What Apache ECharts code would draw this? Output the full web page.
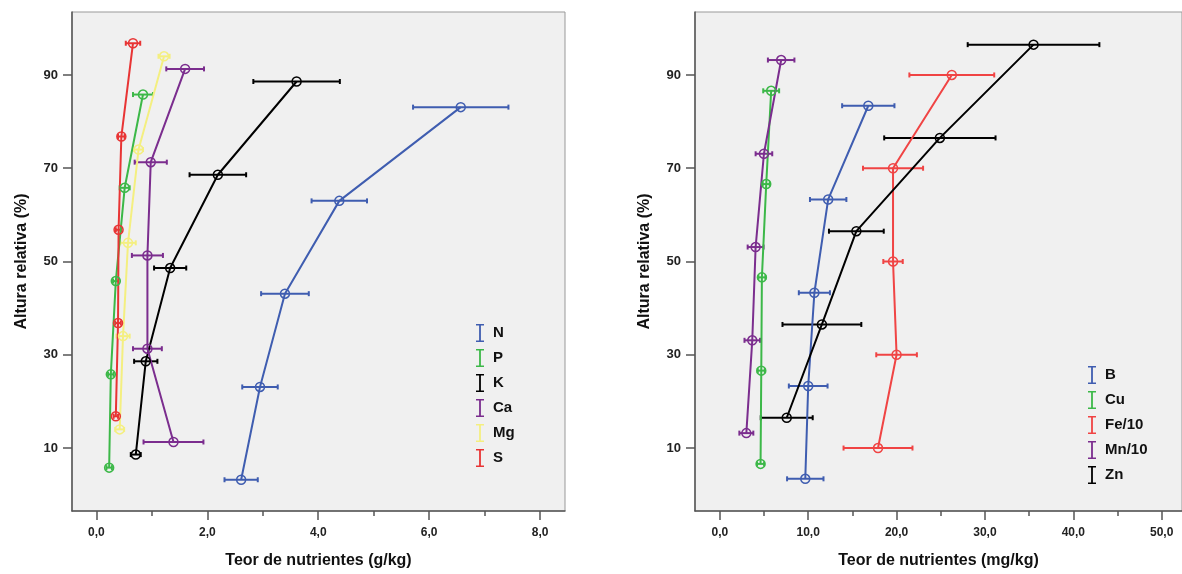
<!DOCTYPE html>
<html>
<head>
<meta charset="utf-8">
<script src="https://cdn.jsdelivr.net/npm/echarts@6/dist/echarts.min.js"></script>
<style>
  html, body { margin: 0; padding: 0; background: #fff; }
  #main { width: 1182px; height: 574px; }
</style>
</head>
<body>
<div id="main"></div>
<script>
    // dados: altura relativa (%), teor médio e erro (±)
    // painel esquerdo (g/kg)
    var alturaN = [3.2, 23.1, 43.1, 63.0, 83.1];
    var teorN = [2.61, 2.95, 3.40, 4.38, 6.57];
    var erroN = [0.30, 0.32, 0.43, 0.50, 0.86];

    var alturaP = [5.8, 25.8, 45.8, 65.8, 85.8];
    var teorP = [0.23, 0.26, 0.35, 0.51, 0.84];
    var erroP = [0.05, 0.05, 0.05, 0.09, 0.18];

    var alturaK = [8.6, 28.6, 48.6, 68.6, 88.6];
    var teorK = [0.71, 0.89, 1.33, 2.19, 3.61];
    var erroK = [0.09, 0.21, 0.29, 0.51, 0.78];

    var alturaCa = [11.3, 31.3, 51.3, 71.3, 91.3];
    var teorCa = [1.39, 0.92, 0.92, 0.98, 1.60];
    var erroCa = [0.54, 0.26, 0.28, 0.29, 0.34];

    var alturaMg = [14.0, 34.0, 54.0, 74.0, 94.0];
    var teorMg = [0.42, 0.48, 0.57, 0.76, 1.22];
    var erroMg = [0.08, 0.12, 0.14, 0.08, 0.10];

    var alturaS = [16.8, 36.8, 56.8, 76.8, 96.8];
    var teorS = [0.35, 0.39, 0.40, 0.45, 0.66];
    var erroS = [0.04, 0.05, 0.05, 0.06, 0.13];

    // painel direito (mg/kg)
    var alturaB = [3.4, 23.3, 43.3, 63.3, 83.4];
    var teorB = [9.67, 10.0, 10.7, 12.26, 16.8];
    var erroB = [2.06, 2.19, 1.76, 2.06, 2.96];

    var alturaCu = [6.6, 26.6, 46.6, 66.6, 86.6];
    var teorCu = [4.61, 4.69, 4.76, 5.25, 5.81];
    var erroCu = [0.4, 0.4, 0.4, 0.4, 0.9];

    var alturaFe = [10.0, 30.0, 50.0, 70.0, 90.0];
    var teorFe = [17.9, 20.0, 19.6, 19.6, 26.25];
    var erroFe = [3.9, 2.3, 1.1, 3.4, 4.8];

    var alturaMn = [13.2, 33.1, 53.1, 73.1, 93.2];
    var teorMn = [3.0, 3.67, 4.05, 4.99, 6.94];
    var erroMn = [0.79, 0.88, 0.9, 0.94, 1.5];

    var alturaZn = [16.5, 36.5, 56.5, 76.5, 96.5];
    var teorZn = [7.57, 11.55, 15.45, 24.9, 35.5];
    var erroZn = [2.94, 4.46, 3.1, 6.3, 7.45];

    var yTicks = [10, 30, 50, 70, 90];
    var xTicksG = [0, 2, 4, 6, 8];
    var xMinorG = [1, 3, 5, 7];
    var xTicksMg = [0, 10, 20, 30, 40, 50];
    var xMinorMg = [5, 15, 25, 35, 45];

    var nomesEsq = ['N', 'P', 'K', 'Ca', 'Mg', 'S'];
    var nomesDir = ['B', 'Cu', 'Fe/10', 'Mn/10', 'Zn'];

    var cores = {
        'N': '#3f5db0', 'P': '#3cb848', 'K': '#000000', 'Ca': '#7b2d8e',
        'Mg': '#f4ef80', 'S': '#e83434',
        'B': '#3f5db0', 'Cu': '#3cb848', 'Fe/10': '#f04444', 'Mn/10': '#7b2d8e', 'Zn': '#000000'
    };

    var myChart = echarts.init(document.getElementById('main'));

    var fonte = '"Liberation Sans", Arial, sans-serif';
    var iconeI = 'path://M0,0H8V1.6H4.9V16.4H8V18H0V16.4H3.1V1.6H0Z';

    function serieLinha(nome, xs, ys, idx) {
        var c = cores[nome];
        return {
            name: nome,
            type: 'line',
            xAxisIndex: idx,
            yAxisIndex: idx,
            data: ys.map(function (y, i) { return [xs[i], y]; }),
            symbol: 'circle',
            symbolSize: 9,
            itemStyle: { color: 'rgba(0,0,0,0)', borderColor: c, borderWidth: 1.5 },
            lineStyle: { color: c, width: 2 },
            emphasis: { disabled: true },
            z: 4
        };
    }

    function serieErro(nome, xs, es, ys, idx) {
        var c = cores[nome];
        return {
            name: nome,
            type: 'custom',
            xAxisIndex: idx,
            yAxisIndex: idx,
            data: ys.map(function (y, i) { return [xs[i] - es[i], xs[i] + es[i], y]; }),
            encode: { x: [0, 1], y: 2 },
            silent: true,
            z: 3,
            renderItem: function (params, api) {
                var a = api.coord([api.value(0), api.value(2)]);
                var b = api.coord([api.value(1), api.value(2)]);
                var h = 2.5;
                var st = { stroke: c, lineWidth: 2 };
                return {
                    type: 'group',
                    children: [
                        { type: 'line', shape: { x1: a[0], y1: a[1], x2: b[0], y2: b[1] }, style: st },
                        { type: 'line', shape: { x1: a[0], y1: a[1] - h, x2: a[0], y2: a[1] + h }, style: st },
                        { type: 'line', shape: { x1: b[0], y1: b[1] - h, x2: b[0], y2: b[1] + h }, style: st }
                    ]
                };
            }
        };
    }

    function eixoX(idx, min, max, labels, nome) {
        return {
            type: 'value', gridIndex: idx, min: min, max: max, position: 'bottom',
            name: nome, nameLocation: 'middle', nameGap: 42,
            nameTextStyle: { fontFamily: fonte, fontWeight: 'bold', fontSize: 16, color: '#111' },
            axisLine: { onZero: false, lineStyle: { color: '#555', width: 1.5 } },
            axisTick: { customValues: labels, length: 9, lineStyle: { color: '#555', width: 1.5 } },
            axisLabel: {
                customValues: labels, margin: 16,
                fontFamily: fonte, fontWeight: 'bold', fontSize: 12, color: '#222',
                formatter: function (v) { return v.toFixed(1).replace('.', ','); }
            },
            splitLine: { show: false }
        };
    }

    function eixoXMenor(idx, min, max, ticks) {
        return {
            type: 'value', gridIndex: idx, min: min, max: max, position: 'bottom',
            axisLine: { show: false, onZero: false },
            axisTick: { customValues: ticks, length: 5, lineStyle: { color: '#555', width: 1.5 } },
            axisLabel: { show: false },
            splitLine: { show: false }
        };
    }

    function eixoY(idx) {
        return {
            type: 'value', gridIndex: idx, min: -3.5, max: 103.5,
            name: 'Altura relativa (%)', nameLocation: 'middle', nameGap: 42,
            nameTextStyle: { fontFamily: fonte, fontWeight: 'bold', fontSize: 16, color: '#111' },
            axisLine: { show: true, onZero: false, lineStyle: { color: '#555', width: 1.5 } },
            axisTick: { show: true, customValues: yTicks, length: 9, lineStyle: { color: '#555', width: 1.5 } },
            axisLabel: {
                customValues: yTicks, margin: 14,
                fontFamily: fonte, fontWeight: 'bold', fontSize: 13, color: '#222'
            },
            splitLine: { show: false }
        };
    }

    function legenda(nomes, left, top) {
        return {
            orient: 'vertical', left: left, top: top,
            itemWidth: 8, itemHeight: 18, itemGap: 7,
            selectedMode: false,
            textStyle: { fontFamily: fonte, fontWeight: 'bold', fontSize: 15, color: '#111', padding: [0, 0, 0, 4] },
            data: nomes.map(function (n) {
                return { name: n, icon: iconeI, itemStyle: { color: cores[n], borderWidth: 0 } };
            })
        };
    }

    var series = [];
    var esq = [
        ['N', teorN, erroN, alturaN], ['P', teorP, erroP, alturaP], ['K', teorK, erroK, alturaK],
        ['Ca', teorCa, erroCa, alturaCa], ['Mg', teorMg, erroMg, alturaMg], ['S', teorS, erroS, alturaS]
    ];
    var dir = [
        ['B', teorB, erroB, alturaB], ['Cu', teorCu, erroCu, alturaCu], ['Fe/10', teorFe, erroFe, alturaFe],
        ['Mn/10', teorMn, erroMn, alturaMn], ['Zn', teorZn, erroZn, alturaZn]
    ];
    esq.forEach(function (s) {
        series.push(serieErro(s[0], s[1], s[2], s[3], 0));
        series.push(serieLinha(s[0], s[1], s[3], 0));
    });
    dir.forEach(function (s) {
        series.push(serieErro(s[0], s[1], s[2], s[3], 1));
        series.push(serieLinha(s[0], s[1], s[3], 1));
    });

    option = {
        backgroundColor: '#ffffff',
        animation: false,
        grid: [
            { left: 72, top: 12, width: 493, height: 500, show: true, backgroundColor: '#f0f0f0', borderColor: '#999', borderWidth: 1 },
            { left: 695, top: 12, width: 490, height: 500, show: true, backgroundColor: '#f0f0f0', borderColor: '#999', borderWidth: 1 }
        ],
        legend: [legenda(nomesEsq, 471, 319), legenda(nomesDir, 1083, 361)],
        xAxis: [
            eixoX(0, -0.44, 8.45, xTicksG, 'Teor de nutrientes (g/kg)'),
            eixoX(1, -2.81, 52.3, xTicksMg, 'Teor de nutrientes (mg/kg)'),
            eixoXMenor(0, -0.44, 8.45, xMinorG),
            eixoXMenor(1, -2.81, 52.3, xMinorMg)
        ],
        yAxis: [eixoY(0), eixoY(1)],
        series: series
    };

    myChart.setOption(option);
</script>
</body>
</html>
